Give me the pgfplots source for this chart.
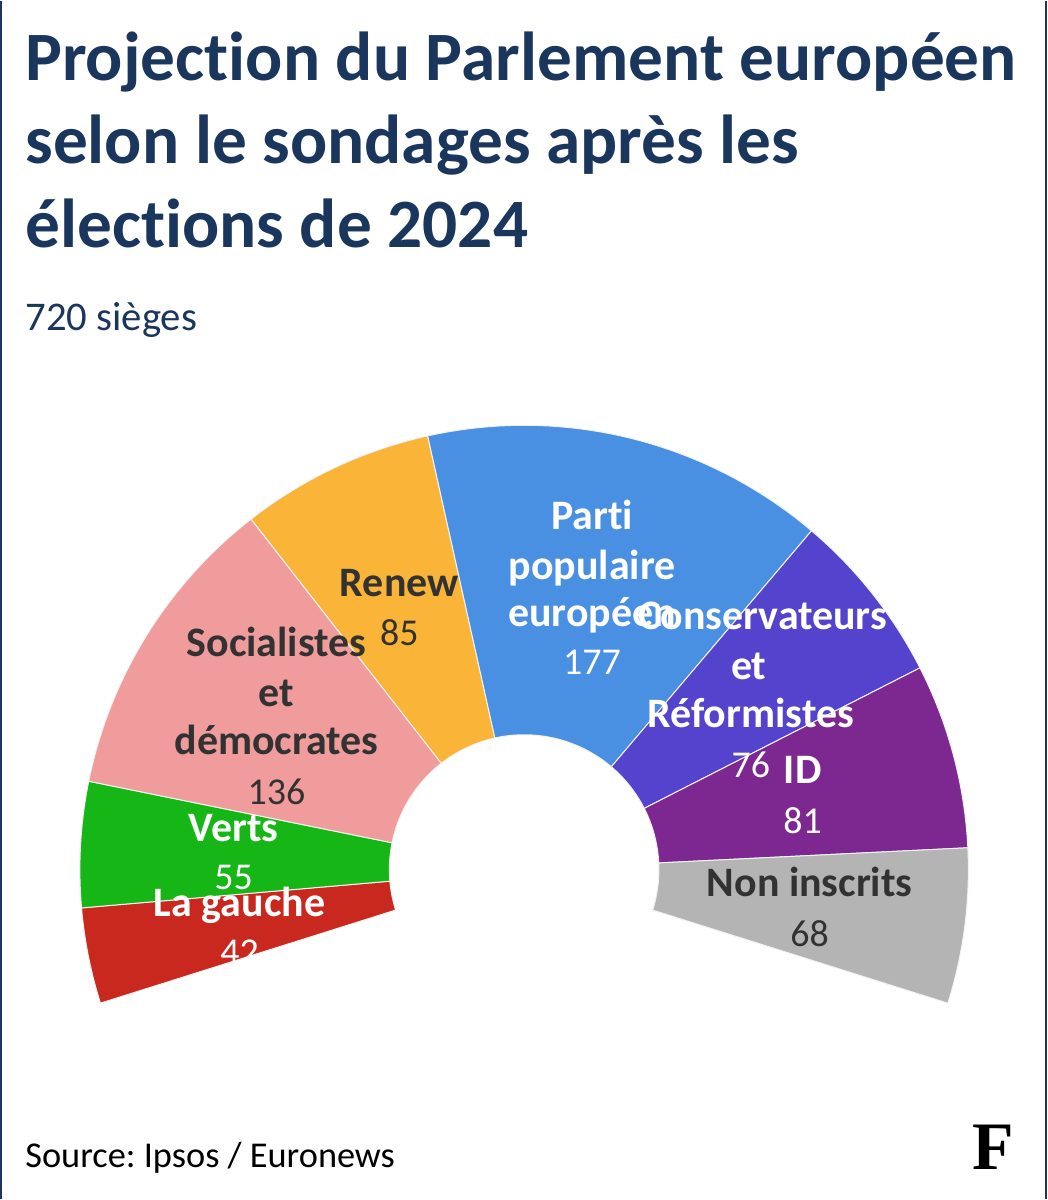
\documentclass[border=0pt]{standalone}
\usepackage{pgfplots}
\pgfplotsset{compat=1.18}
\usepackage{pgfplotstable}
\usepackage{fontspec}
\setmainfont{Carlito}[Ligatures=NoCommon]
\newfontfamily\figfont{Liberation Serif}
\definecolor{navy}{RGB}{27,54,93}
\definecolor{cLG}{RGB}{200,40,30}
\definecolor{cV}{RGB}{22,182,22}
\definecolor{cSD}{RGB}{240,156,156}
\definecolor{cRE}{RGB}{250,180,55}
\definecolor{cPPE}{RGB}{74,144,226}
\definecolor{cCR}{RGB}{84,67,204}
\definecolor{cID}{RGB}{125,40,145}
\definecolor{cNI}{RGB}{180,180,180}
\definecolor{dark}{RGB}{50,50,50}
% seats: La gauche 42, Verts 55, S&D 136, Renew 85, PPE 177, CR 76, ID 81, NI 68 (total 720)
\tikzset{
  declare function={
    seatang(\c)=197.5-\c*215/720;
    secang(\t,\p,\q)=(\t<40.5) ? (\p+(\q-\p)*\t/40) : (\q-(\q-\p)*(\t-41)/40);
    secrad(\t)=(\t<40.5) ? 445 : 135;
  }
}
\newcommand{\sector}[3]{%
  \addplot[fill=#3, draw=white!90!gray, line width=0.5pt, samples at={0,...,81}, variable=\t]
    ({525+secrad(\t)*cos(secang(\t,seatang(#1),seatang(#2)))},{330+secrad(\t)*sin(secang(\t,seatang(#1),seatang(#2)))}) -- cycle;}
\newcommand{\lab}[5]{\node[anchor=base,text=#4,font=#5,inner sep=0pt] at (axis cs:#1,{1188-#2}) {#3};}
\newcommand{\nmw}[3]{\lab{#1}{#2}{#3}{white}{\fontsize{21}{21}\selectfont\bfseries}}
\newcommand{\nbw}[3]{\lab{#1}{#2}{#3}{white}{\fontsize{19}{19}\selectfont}}
\newcommand{\nmd}[3]{\lab{#1}{#2}{#3}{dark}{\fontsize{21}{21}\selectfont\bfseries}}
\newcommand{\nbd}[3]{\lab{#1}{#2}{#3}{dark}{\fontsize{19}{19}\selectfont}}
\begin{document}
\frenchspacing
\begin{tikzpicture}
\begin{axis}[x=0.5pt,y=0.5pt,xmin=0,xmax=1049,ymin=0,ymax=1200,hide axis,clip=false,anchor=origin,at={(0,0)}]
\sector{0}{42}{cLG}
\sector{42}{97}{cV}
\sector{97}{233}{cSD}
\sector{233}{318}{cRE}
\sector{318}{495}{cPPE}
\sector{495}{571}{cCR}
\sector{571}{652}{cID}
\sector{652}{720}{cNI}
% labels
\nmw{593}{517}{Parti}
\nmw{593}{567}{populaire}
\nmw{593}{615}{européen}
\nbw{593}{663}{177}
\nmd{400}{585}{Renew}
\nbd{400}{634}{85}
\nmd{277}{645}{Socialistes}
\nmd{277}{695}{et}
\nmd{277}{743}{démocrates}
\nbd{277}{793}{136}
\nmw{234}{830}{Verts}
\nbw{234}{878}{55}
\nmw{240}{905}{La gauche}
\nbw{240}{953}{42}
\nmw{764}{618}{Conservateurs}
\nmw{750}{668}{et}
\nmw{752}{716}{Réformistes}
\nbw{752}{766}{76}
\nmw{804}{772}{ID}
\nbw{804}{822}{81}
\nmd{811}{885}{Non inscrits}
\nbd{811}{935}{68}
% titles
\node[anchor=base west,inner sep=0pt,text=navy,font=\fontsize{34.7}{34.7}\selectfont\bfseries] at (axis cs:25,1120) {Projection du Parlement européen};
\node[anchor=base west,inner sep=0pt,text=navy,font=\fontsize{34.7}{34.7}\selectfont\bfseries] at (axis cs:25,1037) {selon le sondages après les};
\node[anchor=base west,inner sep=0pt,text=navy,font=\fontsize{34.7}{34.7}\selectfont\bfseries] at (axis cs:25,953) {élections de 2024};
\node[anchor=base west,inner sep=0pt,text=navy,font=\fontsize{20.4}{20.4}\selectfont] at (axis cs:25,870) {720 sièges};
\node[anchor=base west,inner sep=0pt,text=black,font=\fontsize{18.2}{18.2}\selectfont] at (axis cs:25,32) {Source: Ipsos / Euronews};
\node[anchor=base,inner sep=0pt,text=black,font=\fontsize{34}{34}\selectfont\figfont\bfseries] at (axis cs:995,30) {F};
\draw[navy,line width=1pt] (axis cs:1,0) -- (axis cs:1,1200);
\draw[navy,line width=1pt] (axis cs:1048,0) -- (axis cs:1048,1200);
\end{axis}
\end{tikzpicture}
\end{document}
